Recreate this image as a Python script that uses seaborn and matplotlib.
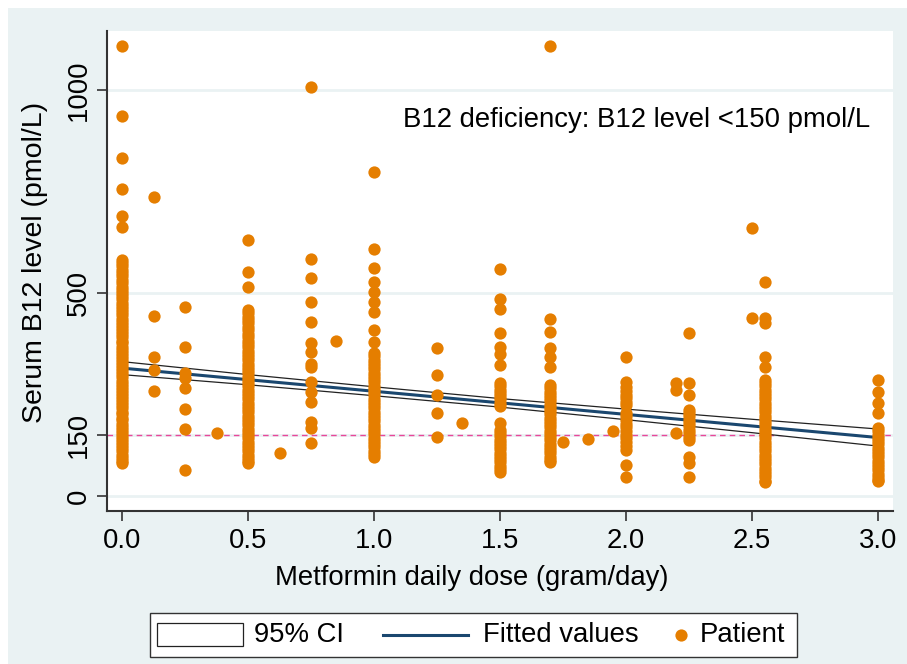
import numpy as np
import pandas as pd
import matplotlib
matplotlib.use("Agg")
import matplotlib.pyplot as plt
import seaborn as sns
from matplotlib.patches import Rectangle
from matplotlib.lines import Line2D
from matplotlib.transforms import Affine2D

# ---------------- data ----------------
b12_d0000 = [1108, 936, 833, 756, 690, 662, 581, 574, 566, 557, 549, 541, 533, 524, 516, 508,
             499, 492, 484, 476, 468, 461, 452, 445, 437, 429, 421, 414, 406, 398, 391, 383,
             376, 368, 360, 353, 345, 338, 330, 322, 315, 307, 300, 292, 284, 277, 269, 262,
             254, 246, 239, 231, 224, 216, 208, 201, 193, 186, 178, 170, 163, 155, 148, 140,
             132, 125, 117, 110, 102, 94, 87, 81]
b12_d0125 = [737, 443, 342, 310, 259]
b12_d0250 = [466, 367, 303, 290, 266, 214, 165, 64]
b12_d0375 = [155]
b12_d0500 = [631, 552, 515, 458, 450, 441, 433, 425, 416, 408, 400, 392, 383, 375, 367, 358,
             350, 342, 334, 326, 318, 310, 302, 294, 286, 278, 270, 262, 254, 246, 238, 230,
             222, 214, 206, 198, 190, 182, 174, 166, 158, 150, 142, 134, 126, 118, 110, 102,
             94, 86, 81]
b12_d0625 = [106]
b12_d0750 = [1007, 584, 537, 478, 429, 377, 355, 325, 318, 281, 256, 232, 182, 167, 130]
b12_d0850 = [382]
b12_d1000 = [798, 608, 561, 527, 502, 478, 453, 409, 379, 352, 344, 336, 328, 320, 312, 304,
             296, 288, 280, 272, 264, 256, 248, 240, 232, 224, 216, 208, 200, 192, 184, 176,
             168, 160, 152, 144, 136, 128, 120, 112, 104, 96]
b12_d1250 = [365, 298, 249, 204, 145]
b12_d1350 = [180]
b12_d1500 = [559, 485, 461, 401, 368, 350, 323, 278, 270, 262, 254, 246, 238, 230, 222, 180,
             163, 155, 147, 139, 131, 123, 115, 107, 99, 91, 83, 75, 67, 60]
b12_d1700 = [1108, 436, 404, 364, 342, 318, 273, 265, 257, 249, 241, 233, 225, 217, 209, 201,
             193, 185, 177, 169, 161, 153, 145, 137, 129, 121, 113, 105, 97, 89, 83]
b12_d1750 = [133]
b12_d1850 = [140]
b12_d1950 = [160]
b12_d2000 = [342, 281, 268, 259, 250, 241, 232, 224, 204, 196, 187, 178, 169, 160, 151, 142,
             133, 124, 113, 76, 47]
b12_d2200 = [278, 261, 155]
b12_d2250 = [401, 278, 249, 212, 204, 196, 188, 180, 172, 163, 155, 146, 138, 96, 81, 47]
b12_d2500 = [660, 438]
b12_d2550 = [527, 438, 426, 342, 318, 286, 278, 270, 262, 254, 246, 238, 230, 222, 214, 206,
             198, 190, 182, 174, 166, 158, 150, 142, 134, 126, 118, 110, 102, 94, 86, 78,
             70, 62, 54, 46, 38, 34]
b12_d3000 = [286, 256, 229, 204, 167, 159, 151, 143, 135, 127, 119, 111, 103, 95, 87, 79,
             71, 63, 55, 47, 40, 37]

dose_levels = [0.0, 0.125, 0.25, 0.375, 0.5, 0.625, 0.75, 0.85, 1.0, 1.25, 1.35, 1.5,
               1.7, 1.75, 1.85, 1.95, 2.0, 2.2, 2.25, 2.5, 2.55, 3.0]
dose_values = [b12_d0000, b12_d0125, b12_d0250, b12_d0375, b12_d0500, b12_d0625, b12_d0750,
               b12_d0850, b12_d1000, b12_d1250, b12_d1350, b12_d1500, b12_d1700, b12_d1750,
               b12_d1850, b12_d1950, b12_d2000, b12_d2200, b12_d2250, b12_d2500, b12_d2550,
               b12_d3000]

fit_x = [0.0, 0.5, 1.0, 1.5, 2.0, 2.5, 3.0]
fit_y = [315, 286.5, 258, 229.5, 201, 172.5, 144]
ci_lo = [299, 274, 247, 219, 188, 156, 123]
ci_hi = [331, 299, 269, 240, 214, 189, 165]

deficiency_cut = 150
y_ticks = [0, 150, 500, 1000]
x_ticks = [0.0, 0.5, 1.0, 1.5, 2.0, 2.5, 3.0]
x_ticklabels = ["0.0", "0.5", "1.0", "1.5", "2.0", "2.5", "3.0"]

# ---------------- build frame ----------------
rows = []
for d, vals in zip(dose_levels, dose_values):
    for v in vals:
        rows.append((d, v))
df = pd.DataFrame(rows, columns=["dose", "b12"])
fit_df = pd.DataFrame({"x": fit_x, "fit": fit_y, "lo": ci_lo, "hi": ci_hi})

# ---------------- style ----------------
BG = "#EAF2F3"
ORANGE = "#E57E00"
NAVY = "#1A476F"
PINK = "#E8479A"
DARK = "#333333"
FS = 19.8

plt.rcParams["font.family"] = ["Liberation Sans", "DejaVu Sans"]

W, H = 907, 664
fig = plt.figure(figsize=(W / 100, H / 100), dpi=100, facecolor="white")
fig.patches.append(Rectangle((8 / W, 0), 1, (H - 8) / H, transform=fig.transFigure,
                             facecolor=BG, edgecolor="none", zorder=-10))

L, R, T, B = 107, 893, 31, 511
ax = fig.add_axes([L / W, 1 - B / H, (R - L) / W, (B - T) / H])
ax.set_facecolor("white")

# CI band
ax.fill_between(fit_df["x"], fit_df["lo"], fit_df["hi"], facecolor="white",
                edgecolor="none", zorder=2)
sns.lineplot(data=fit_df, x="x", y="lo", color="#222222", lw=0.9, ax=ax, zorder=2.1)
sns.lineplot(data=fit_df, x="x", y="hi", color="#222222", lw=0.9, ax=ax, zorder=2.1)
# fitted values
sns.lineplot(data=fit_df, x="x", y="fit", color=NAVY, lw=2.2, ax=ax, zorder=2.2)
# deficiency line
ax.axhline(deficiency_cut, color=PINK, lw=1.0, ls=(0, (4, 3)), zorder=1.5)
# patients
sns.scatterplot(data=df, x="dose", y="b12", color=ORANGE, s=78, linewidth=0,
                ax=ax, zorder=4, legend=False)

ax.set_xlim((L - 122) / 252, (R - 122) / 252)
ax.set_ylim((496 - B) / 0.406, (496 - T) / 0.406)

ax.set_yticks(y_ticks)
ax.set_yticklabels([str(t) for t in y_ticks], rotation=90, va="center", fontsize=FS)
ax.set_xticks(x_ticks)
ax.set_xticklabels(x_ticklabels, fontsize=FS)
ax.tick_params(axis="both", direction="out", length=7, width=1.2, color=DARK,
               labelcolor="black")
ax.tick_params(axis="y", pad=4)
ax.tick_params(axis="x", pad=5)

ax.set_axisbelow(True)
ax.yaxis.grid(True, color=BG, lw=2)
ax.xaxis.grid(False)
for s in ["top", "right"]:
    ax.spines[s].set_visible(False)
for s in ["left", "bottom"]:
    ax.spines[s].set_color(DARK)
    ax.spines[s].set_linewidth(1.5)

ax.set_xlabel("Metformin daily dose (gram/day)", fontsize=FS)
ax.set_ylabel("Serum B12 level (pmol/L)", fontsize=20.5)
ax.xaxis.set_label_coords((472 - L) / (R - L), -(578 - B) / (B - T), transform=ax.transAxes)
ax.xaxis.label.set_va("center")
ax.yaxis.set_label_coords(-(L - 35) / (R - L), (B - 262) / (B - T), transform=ax.transAxes)
ax.yaxis.label.set_va("center")

ax.text(1.115, 926, "B12 deficiency: B12 level <150 pmol/L", fontsize=FS,
        ha="left", va="center", zorder=5)

# ---------------- legend (Stata-like box below the plot) ----------------
px = Affine2D().scale(1 / W, -1 / H).translate(0, 1) + fig.transFigure
fig.patches.append(Rectangle((150, 657), 647, -44, transform=px, facecolor="white",
                             edgecolor=DARK, lw=1.0))
fig.patches.append(Rectangle((157, 646), 86, -23, transform=px, facecolor="white",
                             edgecolor="#222222", lw=0.9))
fig.lines.append(Line2D([383, 468], [634.5, 634.5], transform=px, color=NAVY, lw=2.2))
fig.lines.append(Line2D([681], [634.5], transform=px, color=ORANGE, marker="o",
                        markersize=8.8, markeredgewidth=0, linestyle="none"))
fig.text(254, 635, "95% CI", transform=px, fontsize=FS, va="center", ha="left")
fig.text(483, 635, "Fitted values", transform=px, fontsize=FS, va="center", ha="left")
fig.text(700, 635, "Patient", transform=px, fontsize=FS, va="center", ha="left")

fig.savefig("out.png", dpi=100, facecolor=fig.get_facecolor())
